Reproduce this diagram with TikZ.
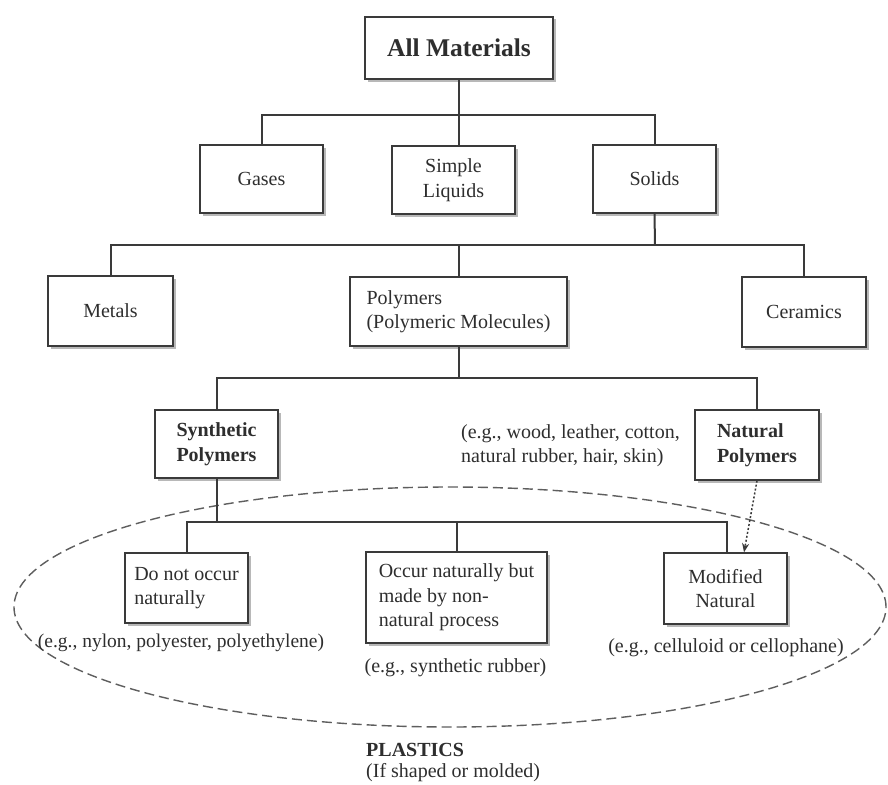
\documentclass[tikz,border=0pt]{standalone}
\usepackage{fontspec}
\setmainfont{Liberation Serif}
\usetikzlibrary{shadows,arrows.meta,calc}
\definecolor{ink}{HTML}{2E2E2E}
\definecolor{linec}{HTML}{3A3A3A}
\definecolor{dashc}{HTML}{5E5E5E}
\begin{document}
\begin{tikzpicture}[x=1pt,y=-1pt,
  base/.style={font=\fontsize{20pt}{24.5pt}\selectfont, text=ink},
  box/.style={base, draw=linec, line width=1.4pt, fill=white, inner sep=0pt,
    drop shadow={shadow xshift=2.5pt, shadow yshift=-2.5pt, opacity=0.28, fill=black}},
  conn/.style={draw=linec, line width=2pt},
  lbl/.style={base, inner sep=0pt},
  boldtxt/.style={font=\fontsize{20pt}{24.5pt}\selectfont\bfseries}]
\fill[white] (0,0) rectangle (888,784);
\useasboundingbox (0,0) rectangle (888,784);

% dashed ellipse (plastics)
\draw[dashc, line width=1.4pt, dash pattern=on 10pt off 5pt] (450,607) ellipse [x radius=436pt, y radius=120pt];

% boxes
\node[box, minimum width=188pt, minimum height=62pt, font=\fontsize{25.5pt}{30pt}\selectfont\bfseries] (all) at (459,48) {All Materials};
\node[box, minimum width=123pt, minimum height=68pt] (gases) at (261.5,179) {Gases};
\node[box, minimum width=123pt, minimum height=68pt, align=center] (liquids) at (453.5,180) {Simple\\Liquids};
\node[box, minimum width=123pt, minimum height=68pt] (solids) at (654.5,179) {Solids};

\node[box, minimum width=125pt, minimum height=70pt] (metals) at (110.5,311) {Metals};
\node[box, minimum width=217pt, minimum height=69pt, align=left] (polymers) at (458.5,311.5) {Polymers\\(Polymeric Molecules)};
\node[box, minimum width=124pt, minimum height=70pt] (ceramics) at (804,312) {Ceramics};

\node[box, boldtxt, minimum width=123pt, minimum height=68pt, align=center] (synth) at (216.5,444) {Synthetic\\Polymers};
\node[box, boldtxt, minimum width=124pt, minimum height=70pt, align=left] (natural) at (757,445) {Natural\\Polymers};

\node[box, minimum width=123pt, minimum height=70pt, align=left] (donot) at (186.5,588) {Do not occur\\naturally};
\node[box, minimum width=181pt, minimum height=91pt, align=left] (middle) at (456.5,597.5) {Occur naturally but\\made by non-\\natural process};
\node[box, minimum width=123pt, minimum height=71pt, align=center] (modified) at (725.5,588.5) {Modified\\Natural};

% labels
\node[lbl, anchor=west, align=left] (egnat) at (461,445.5) {(e.g., wood, leather, cotton,\\natural rubber, hair, skin)};
\node[lbl, font=\fontsize{19.5pt}{24pt}\selectfont] (eg1) at (181,643) {(e.g., nylon, polyester, polyethylene)};
\node[lbl] (eg2) at (455.5,668) {(e.g., synthetic rubber)};
\node[lbl] (eg3) at (726,648) {(e.g., celluloid or cellophane)};
\node[lbl, boldtxt, anchor=west] (plastics) at (366,750) {PLASTICS};
\node[lbl, anchor=west] (shaped) at (366,773) {(If shaped or molded)};

% bus coordinates
\coordinate (b1) at (459,115);
\coordinate (b2) at (655,245);
\coordinate (b3) at (458.5,378);
\coordinate (b4) at (216.5,522);

% connectors
\draw[conn] (all.south) -- (all.south |- liquids.north);
\draw[conn] (gases.north) |- (b1) -| (solids.north);
\draw[conn] (solids.south) -- (b2);
\draw[conn] (metals.north) |- (b2) -| (ceramics.north);
\draw[conn] (b2 -| polymers.north) -- (polymers.north);
\draw[conn] (polymers.south) -- (b3);
\draw[conn] (synth.north) |- (b3) -| (natural.north);
\draw[conn] (synth.south) -- (b4);
\draw[conn] (donot.north) |- (b4) -| ([xshift=1.5pt]modified.north);
\draw[conn] (b4 -| middle.north) -- (middle.north);

% dotted arrow
\draw[linec, line width=1.5pt, dash pattern=on 2pt off 2pt, -{Stealth[length=9pt,width=7pt]}] (natural.south) -- ([xshift=18.5pt]modified.north);
\end{tikzpicture}
\end{document}
